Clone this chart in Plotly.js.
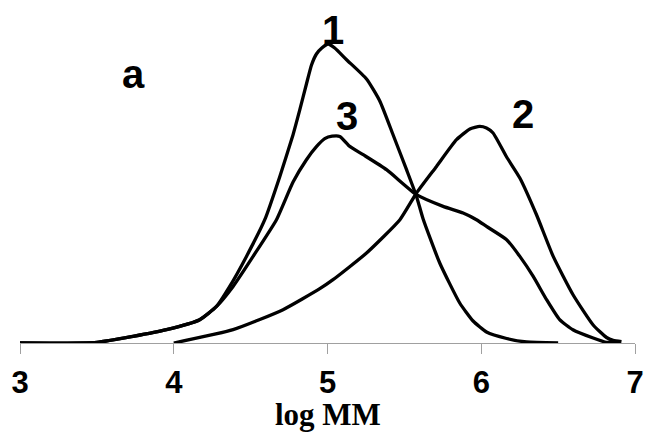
<!DOCTYPE html>
<html>
<head>
<meta charset="utf-8">
<script src="https://cdn.plot.ly/plotly-3.0.1.min.js"></script>
<style>html,body{margin:0;padding:0;background:#fff;}#chart{width:645px;height:433px;}</style>
</head>
<body>
<div id="chart"></div>
<script>
// Curve 1
var x1 = [3.00, 3.50, 3.735, 3.953, 4.169, 4.278, 4.364, 4.473, 4.592, 4.690, 4.776, 4.820, 4.863, 4.896, 4.928, 4.963, 5.004, 5.047, 5.124, 5.254, 5.340, 5.427, 5.514, 5.579, 5.622, 5.730, 5.860, 5.947, 6.034, 6.165, 6.295, 6.500];
var y1 = [0, 0.6, 6.6, 13.3, 23.3, 36.6, 56.6, 86.6, 123.3, 166.6, 208.3, 233.3, 259, 278, 289, 295, 299, 295, 283.3, 264, 242, 208, 173.3, 146.6, 124, 80, 40, 22, 11, 4.5, 1, 0];
// Curve 2
var x2 = [4.00, 4.386, 4.711, 4.950, 5.036, 5.254, 5.471, 5.579, 5.709, 5.839, 5.926, 5.990, 6.034, 6.077, 6.165, 6.251, 6.360, 6.468, 6.598, 6.728, 6.815, 6.858, 6.912];
var y2 = [0, 13.3, 33.3, 54.3, 63.3, 90, 123.3, 150, 176.6, 203.3, 214, 216.6, 215, 210, 186, 165, 128, 86.6, 48, 18, 5.5, 2.6, 1.3];
// Curve 3
var x3 = [3.00, 3.50, 3.735, 3.953, 4.169, 4.278, 4.386, 4.516, 4.668, 4.776, 4.863, 4.928, 4.982, 5.030, 5.080, 5.145, 5.232, 5.384, 5.579, 5.752, 5.882, 5.969, 6.034, 6.165, 6.251, 6.338, 6.425, 6.510, 6.596, 6.728, 6.815, 6.901];
var y3 = [0, 0.6, 6.6, 13.3, 23.3, 36.6, 56.6, 86.6, 123.3, 161, 183.3, 196.3, 204.3, 206.8, 206.6, 196.6, 188.3, 173.3, 148.3, 136.6, 130, 123.3, 116.6, 103.3, 86.6, 66.6, 43.3, 23.3, 13.3, 5, 0.6, 1.3];

var tickVals = [3, 4, 5, 6, 7];
var tickText = ['3', '4', '5', '6', '7'];
var xTitle = 'log MM';
var curveLabels = ['1', '2', '3', 'a'];
var labelX = [5.035, 6.271, 5.126, 3.737];
var labelY = [312.8, 229.3, 227.3, 268.8];

var lineStyle = {color: '#000', width: 3.3, shape: 'spline', smoothing: 0.5};
var traces = [
  {x: x1, y: y1, mode: 'lines', line: lineStyle, name: '1', hoverinfo: 'skip'},
  {x: x2, y: y2, mode: 'lines', line: lineStyle, name: '2', hoverinfo: 'skip'},
  {x: x3, y: y3, mode: 'lines', line: lineStyle, name: '3', hoverinfo: 'skip'}
];

var annotations = curveLabels.map(function (t, i) {
  return {
    x: labelX[i], y: labelY[i], xref: 'x', yref: 'y', text: t, showarrow: false,
    xanchor: 'center', yanchor: 'middle',
    font: {family: 'Liberation Sans, Arial, sans-serif', size: 40, weight: 'bold', color: '#000'}
  };
});
annotations.push({
  x: 0.5, y: -0.2635, xref: 'paper', yref: 'paper', text: xTitle, showarrow: false,
  xanchor: 'center', yanchor: 'bottom', borderpad: 0,
  font: {family: 'Liberation Serif, Times New Roman, serif', size: 31, weight: 'bold', color: '#000'}
});

var layout = {
  width: 645, height: 433,
  margin: {l: 20, r: 10, t: 0, b: 90},
  paper_bgcolor: '#fff', plot_bgcolor: '#fff',
  showlegend: false,
  xaxis: {
    range: [3, 7], tickvals: tickVals, ticktext: tickText,
    showline: true, linecolor: '#a0a0a0', linewidth: 1,
    ticks: 'outside', ticklen: 10, tickcolor: '#a0a0a0', tickwidth: 1,
    ticklabelstandoff: 2,
    showgrid: false, zeroline: false,
    tickfont: {family: 'Liberation Sans, Arial, sans-serif', size: 31, weight: 'bold', color: '#000'}
  },
  yaxis: {range: [0, 343], visible: false, showgrid: false, zeroline: false},
  annotations: annotations
};

Plotly.newPlot('chart', traces, layout, {displayModeBar: false, staticPlot: true});
</script>
</body>
</html>
